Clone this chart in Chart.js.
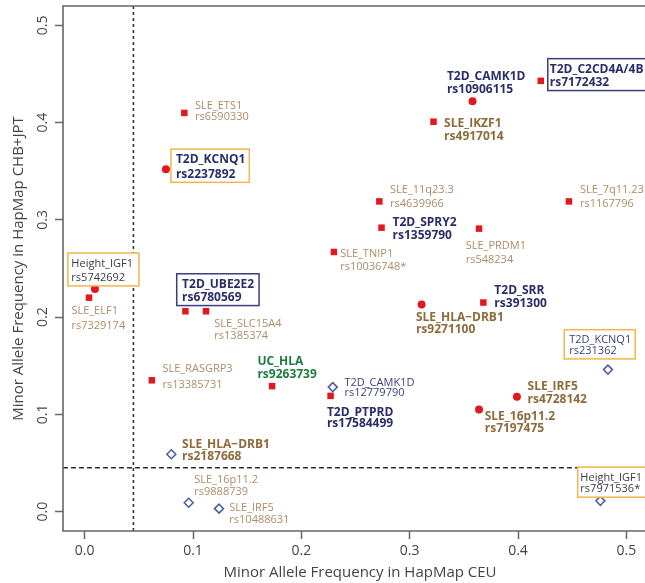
<!DOCTYPE html>
<html>
<head>
<meta charset="utf-8">
<title>Minor allele frequency CEU vs CHB+JPT</title>
<script src="https://cdn.jsdelivr.net/npm/chart.js@4.4.0/dist/chart.umd.min.js"></script>
<style>
	html, body { margin: 0; padding: 0; overflow: hidden; background: #fff; }
	#chart { display: block; }
</style>
</head>
<body>
<canvas id="chart" width="645" height="583"></canvas>
<script>
// values
const loci = [
	'SLE_ETS1', 'T2D_KCNQ1', 'T2D_CAMK1D', 'T2D_C2CD4A/4B', 'SLE_IKZF1',
	'SLE_11q23.3', 'SLE_7q11.23', 'T2D_SPRY2', 'SLE_PRDM1', 'SLE_TNIP1',
	'SLE_HLA\u2212DRB1', 'T2D_SRR', 'T2D_KCNQ1', 'Height_IGF1', 'SLE_ELF1',
	'T2D_UBE2E2', 'SLE_SLC15A4', 'SLE_RASGRP3', 'UC_HLA', 'T2D_CAMK1D',
	'T2D_PTPRD', 'SLE_IRF5', 'SLE_16p11.2', 'Height_IGF1', 'SLE_HLA\u2212DRB1',
	'SLE_16p11.2', 'SLE_IRF5'
];
const snps = [
	'rs6590330', 'rs2237892', 'rs10906115', 'rs7172432', 'rs4917014',
	'rs4639966', 'rs1167796', 'rs1359790', 'rs548234', 'rs10036748*',
	'rs9271100', 'rs391300', 'rs231362', 'rs5742692', 'rs7329174',
	'rs6780569', 'rs1385374', 'rs13385731', 'rs9263739', 'rs12779790',
	'rs17584499', 'rs4728142', 'rs7197475', 'rs7971536*', 'rs2187668',
	'rs9888739', 'rs10488631'
];
const mafCEU = [
	0.092, 0.075, 0.358, 0.421, 0.322,
	0.272, 0.447, 0.274, 0.364, 0.230,
	0.311, 0.368, 0.483, 0.0095, 0.004,
	0.093, 0.112, 0.062, 0.173, 0.229,
	0.227, 0.399, 0.364, 0.476, 0.080,
	0.096, 0.124
];
const mafCHBJPT = [
	0.410, 0.352, 0.422, 0.443, 0.401,
	0.319, 0.319, 0.292, 0.291, 0.267,
	0.213, 0.215, 0.146, 0.229, 0.220,
	0.206, 0.206, 0.135, 0.129, 0.128,
	0.119, 0.118, 0.105, 0.011, 0.059,
	0.009, 0.003
];
const markerType = [
	'square', 'circle', 'circle', 'square', 'square',
	'square', 'square', 'square', 'square', 'square',
	'circle', 'square', 'diamond', 'circle', 'square',
	'square', 'square', 'square', 'square', 'diamond',
	'square', 'circle', 'circle', 'diamond', 'diamond',
	'diamond', 'diamond'
];
const xTickValues = [0, 0.1, 0.2, 0.3, 0.4, 0.5];
const yTickValues = [0, 0.1, 0.2, 0.3, 0.4, 0.5];
const thresholdCEU = 0.045;
const thresholdCHBJPT = 0.045;

// label placement: [style, dx, dy line1, dy line2, box]
const labelLayout = [
	['sle', 10.7, -6.6, 4.4],
	['t2d', 10, -9.7, 5, ['orange', 5, 4]],
	['t2d', -25.6, -25, -11.7],
	['t2d', 9, -11.7, 1.7, ['navy', 2, 3]],
	['sleBold', 10.6, 2.3, 14.7],
	['sle', 10.7, -11.3, 2],
	['sle', 11, -11.3, 2],
	['t2d', 11, -4.7, 8],
	['sle', -13.3, 17.4, 31.7],
	['sle', 6.3, 1.4, 14.7],
	['sleBold', -5.7, 13, 25.6],
	['t2d', 11, -12, 1.3],
	['t2dThin', -38.7, -29.4, -18.7, ['orange', 5, 4]],
	['dark', -23.6, -25.4, -11, ['orange', 3.5, 6]],
	['sle', -17.6, 13.3, 28],
	['t2d', -3.3, -27, -13.7, ['navy', 5.4, 5]],
	['sle', 8.3, 13, 25],
	['sle', 10.6, -11.7, 5],
	['uc', -14.7, -24.7, -12],
	['t2dThin', 11.7, -4.4, 6],
	['t2d', -3.7, 16.7, 27.7],
	['sleBold', 10.6, -10, 2.6],
	['sleBold', 5.7, 7.3, 19.6],
	['dark', -20, -23.3, -11.7, ['orange', 2.7, 6]],
	['sleBold', 10.7, -10, 2.7],
	['sle', 5.6, -23.4, -11],
	['sle', 10.3, -0.6, 11]
];

const FONT = '"Open Sans", "DejaVu Sans", sans-serif';

const labelStyles = {
	sle: { font: `11px ${FONT}`, color: '#ad8c68' },
	sleBold: { font: `bold 12px ${FONT}`, color: '#8e6a3a' },
	t2d: { font: `bold 12px ${FONT}`, color: '#2b2d6b' },
	t2dThin: { font: `11px ${FONT}`, color: '#3a3f7e' },
	uc: { font: `bold 12px ${FONT}`, color: '#1f7a3e' },
	dark: { font: `11px ${FONT}`, color: '#3b3b48' },
};

const boxColors = {
	orange: '#f1b649',
	navy: '#3b3e7c',
};

const markerStyles = {
	square: { pointStyle: 'rect', radius: 4.6, fill: '#e3181f', border: '#e3181f', borderWidth: 0 },
	circle: { pointStyle: 'circle', radius: 4, fill: '#e3181f', border: '#e3181f', borderWidth: 0 },
	diamond: { pointStyle: 'rectRot', radius: 4.5, fill: '#ffffff', border: '#4b5ca6', borderWidth: 1.5 },
};

function buildDatasets() {
	return ['square', 'circle', 'diamond'].map(type => {
		const style = markerStyles[type];
		const data = [];

		markerType.forEach((t, i) => {
			if (t === type) {
				data.push({ x: mafCEU[i], y: mafCHBJPT[i], idx: i });
			}
		});

		return {
			label: type,
			data,
			pointStyle: style.pointStyle,
			pointRadius: style.radius,
			pointHoverRadius: style.radius,
			backgroundColor: style.fill,
			borderColor: style.border,
			borderWidth: style.borderWidth,
			showLine: false,
		};
	});
}

const guidePlugin = {
	id: 'guides',
	beforeDatasetsDraw(chart) {
		const { ctx, chartArea, scales: { x, y } } = chart;
		const gx = x.getPixelForValue(thresholdCEU);
		const gy = y.getPixelForValue(thresholdCHBJPT);

		ctx.save();
		ctx.strokeStyle = '#333';
		ctx.lineWidth = 1.6;

		ctx.setLineDash([3, 3]);
		ctx.beginPath();
		ctx.moveTo(gx, chartArea.top);
		ctx.lineTo(gx, chartArea.bottom);
		ctx.stroke();

		ctx.setLineDash([5, 3]);
		ctx.beginPath();
		ctx.moveTo(chartArea.left, gy);
		ctx.lineTo(chartArea.right, gy);
		ctx.stroke();
		ctx.restore();
	},
	afterDraw(chart) {
		const { ctx, chartArea, scales: { x, y } } = chart;

		ctx.save();
		// plot frame, right side runs past the canvas edge
		ctx.strokeStyle = '#666';
		ctx.lineWidth = 1.6;
		ctx.beginPath();
		ctx.moveTo(chart.width + 2, chartArea.top);
		ctx.lineTo(chartArea.left, chartArea.top);
		ctx.lineTo(chartArea.left, chartArea.bottom);
		ctx.lineTo(chart.width + 2, chartArea.bottom);
		ctx.stroke();

		// tick labels
		ctx.fillStyle = '#444';
		ctx.font = `14px ${FONT}`;
		ctx.textAlign = 'center';
		ctx.textBaseline = 'middle';
		xTickValues.forEach(v => ctx.fillText(v.toFixed(1), x.getPixelForValue(v), 551));
		yTickValues.forEach(v => {
			ctx.save();
			ctx.translate(43, y.getPixelForValue(v));
			ctx.rotate(-Math.PI / 2);
			ctx.fillText(v.toFixed(1), 0, 0);
			ctx.restore();
		});

		// axis titles
		ctx.font = `15px ${FONT}`;
		ctx.fillText('Minor Allele Frequency in HapMap CEU', 360, 573);
		ctx.save();
		ctx.translate(19, (chartArea.top + chartArea.bottom) / 2);
		ctx.rotate(-Math.PI / 2);
		ctx.fillText('Minor Allele Frequency in HapMap CHB+JPT', 0, 0);
		ctx.restore();
		ctx.restore();
	},
	afterDatasetsDraw(chart) {
		const { ctx } = chart;

		ctx.save();
		ctx.textAlign = 'left';
		ctx.textBaseline = 'middle';

		chart.data.datasets.forEach((ds, d) => {
			const meta = chart.getDatasetMeta(d);

			meta.data.forEach((pt, k) => {
				const i = ds.data[k].idx;
				const [styleKey, dx, dy1, dy2, box] = labelLayout[i];
				const style = labelStyles[styleKey];
				const tx = pt.x + dx;

				ctx.font = style.font;

				if (box) {
					const [colorKey, padL, padR] = box;
					const w = Math.max(ctx.measureText(loci[i]).width, ctx.measureText(snps[i]).width);
					const bx = tx - padL;
					const by = pt.y + dy1 - 10.5;
					const bw = w + padL + padR;
					const bh = (dy2 - dy1) + 18.5;

					ctx.fillStyle = '#fff';
					ctx.fillRect(bx, by, bw, bh);
					ctx.strokeStyle = boxColors[colorKey];
					ctx.lineWidth = 1.5;
					ctx.strokeRect(bx, by, bw, bh);
				}

				ctx.fillStyle = style.color;
				ctx.fillText(loci[i], tx, pt.y + dy1);
				ctx.fillText(snps[i], tx, pt.y + dy2);
			});
		});

		ctx.restore();
	}
};

new Chart(document.getElementById('chart'), {
	type: 'scatter',
	data: { datasets: buildDatasets() },
	options: {
		responsive: false,
		animation: false,
		layout: { autoPadding: false, padding: { top: 6, right: 0, left: 0, bottom: 0 } },
		plugins: {
			legend: { display: false },
			tooltip: { enabled: false },
		},
		scales: {
			x: {
				type: 'linear',
				min: -0.02,
				max: 0.5172,
				afterFit: scale => { scale.height = 52; },
				afterBuildTicks: scale => { scale.ticks = xTickValues.map(value => ({ value })); },
				ticks: { display: false },
				border: { display: false },
				grid: { drawOnChartArea: false, drawTicks: true, tickLength: 8, tickColor: '#666', tickWidth: 1.5 },
			},
			y: {
				type: 'linear',
				min: -0.02,
				max: 0.52,
				afterFit: scale => { scale.width = 63; },
				afterBuildTicks: scale => { scale.ticks = yTickValues.map(value => ({ value })); },
				ticks: { display: false },
				border: { display: false },
				grid: { drawOnChartArea: false, drawTicks: true, tickLength: 8, tickColor: '#666', tickWidth: 1.5 },
			},
		},
	},
	plugins: [guidePlugin],
});
</script>
</body>
</html>
